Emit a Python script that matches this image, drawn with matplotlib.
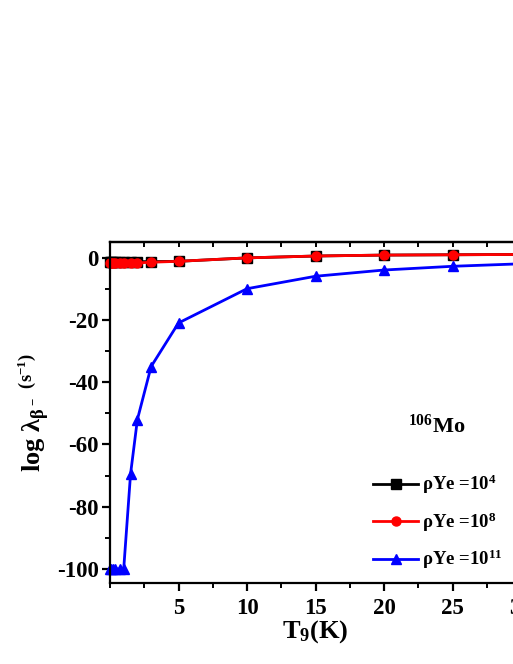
import numpy as np
import matplotlib
matplotlib.use("Agg")
import matplotlib.pyplot as plt
from matplotlib.ticker import MultipleLocator

plt.rcParams["font.family"] = ["Liberation Serif", "DejaVu Serif"]
plt.rcParams["font.weight"] = "bold"
plt.rcParams["axes.labelweight"] = "bold"
plt.rcParams["mathtext.default"] = "regular"
plt.rcParams["axes.unicode_minus"] = False

# temperatura T9
t9 = [0.01, 0.1, 0.2, 0.4, 0.7, 1.0, 1.5, 2.0, 3.0, 5.0, 10.0, 15.0, 20.0, 25.0, 30.0]

# log lambda kolme tiheduse jaoks
rho_1e4 = [-1.3, -1.3, -1.3, -1.3, -1.3, -1.3, -1.3, -1.3, -1.3, -1.2, -0.1, 0.5, 0.8, 0.9, 1.0]
rho_1e8 = [-1.8, -1.8, -1.8, -1.8, -1.8, -1.7, -1.7, -1.7, -1.5, -1.2, -0.1, 0.5, 0.8, 0.9, 1.0]
rho_1e11 = [-100.0, -100.0, -100.0, -100.0, -100.0, -100.0, -69.5, -52.0, -35.0, -21.0, -10.0, -6.0, -4.0, -2.8, -2.0]

seeriad = [
    (rho_1e4, "black", "s", r"ρYe =10$^{4}$"),
    (rho_1e8, "red", "o", r"ρYe =10$^{8}$"),
    (rho_1e11, "blue", "^", r"ρYe =10$^{11}$"),
]

fig = plt.figure(figsize=(5.13, 6.64), dpi=100)
ax = fig.add_axes([110 / 513, 81 / 664, 411 / 513, 341 / 664])

for väärtused, värv, marker, silt in seeriad:
    ax.plot(t9, väärtused, color=värv, marker=marker, markersize=6.5,
            linewidth=2.0, label=silt, clip_on=False)

ax.set_xlim(0, 30)
ax.set_ylim(-104.5, 5)
ax.set_xticks([5, 10, 15, 20, 25, 30])
ax.xaxis.set_minor_locator(MultipleLocator(2.5))
ax.set_yticks([0, -20, -40, -60, -80, -100])
ax.yaxis.set_minor_locator(MultipleLocator(10))

for külg in ["left", "bottom", "top"]:
    ax.spines[külg].set_linewidth(1.6)
ax.spines["right"].set_visible(False)

ax.tick_params(axis="both", which="major", direction="out", length=6, width=1.6,
               labelsize=16.5, top=False, pad=2)
ax.tick_params(axis="x", which="major", pad=5)
ax.tick_params(axis="both", which="minor", direction="out", length=3.5, width=1.4, top=False)

# ülemise telje sisemised kriipsud
sec = ax.secondary_xaxis("top")
sec.set_xticks([5, 10, 15, 20, 25, 30])
sec.xaxis.set_minor_locator(MultipleLocator(2.5))
sec.tick_params(which="both", direction="in", length=3.5, width=1.4, labeltop=False)
sec.spines["top"].set_linewidth(1.6)

ax.set_xlabel(r"T$_9$(K)", fontsize=19, labelpad=-1)
ax.set_ylabel(r"log λ$_{β^-}$ $^{(s^{-1})}$", fontsize=19, labelpad=4)

ax.text(0.795, 0.46, r"$^{106}$Mo", transform=ax.transAxes, fontsize=16,
        ha="center", va="center")

ax.legend(loc="lower left", bbox_to_anchor=(0.6, -0.015), frameon=False,
          fontsize=13.5, handlelength=2.4, labelspacing=0.75, handletextpad=0.2)

plt.savefig("out.png", dpi=100)
